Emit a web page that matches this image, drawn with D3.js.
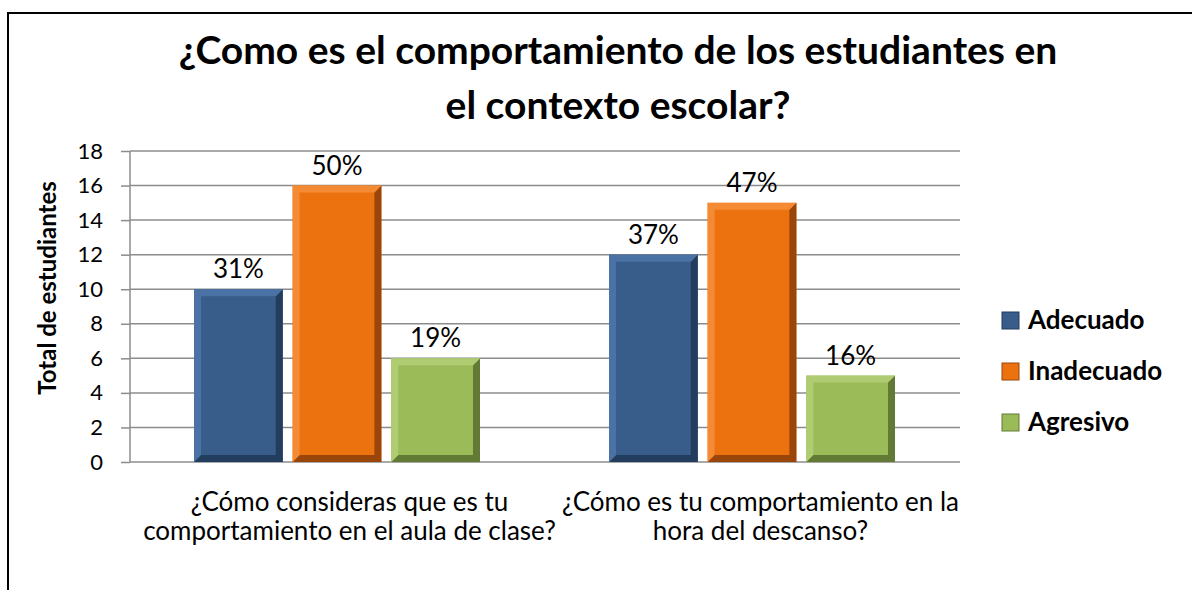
<!DOCTYPE html>
<html>
<head>
<meta charset="utf-8">
<title>Comportamiento</title>
<script src="https://d3js.org/d3.v7.min.js"></script>
<style>
  body { margin: 0; background: #fff; }
  text { font-family: Lato, "Open Sans", sans-serif; }
</style>
</head>
<body>
<div id="output"></div>
<script>
var categories = [
  ["¿Cómo consideras que es tu", "comportamiento en el aula de clase?"],
  ["¿Cómo es tu comportamiento en la", "hora del descanso?"]
];
var series = ["Adecuado", "Inadecuado", "Agresivo"];
var adecuado = [10, 12];
var inadecuado = [16, 15];
var agresivo = [6, 5];
var percentLabels = [["31%", "50%", "19%"], ["37%", "47%", "16%"]];
var yTicks = [0, 2, 4, 6, 8, 10, 12, 14, 16, 18];
var titleLines = ["¿Como es el comportamiento  de los estudiantes en", "el contexto escolar?"];

var colors = ["#385d8a", "#ec720f", "#9bbb59"];
var darks = ["#233d5e", "#9a460a", "#637a36"];
var lights = ["#4a72a5", "#f58a35", "#b0cc72"];

var w = 1192, h = 590;
var plot = {left: 130, right: 960, top: 151, bottom: 462};

var svg = d3.select("#output").append("svg").attr("width", w).attr("height", h);

svg.append("rect").attr("x", 8).attr("y", 13).attr("width", 1300).attr("height", 700)
  .attr("fill", "none").attr("stroke", "#000").attr("stroke-width", 2);

var title = svg.append("text").attr("text-anchor", "middle").attr("font-weight", "bold")
  .attr("font-size", 39).attr("fill", "#000");
titleLines.forEach(function(t, i) {
  title.append("tspan").attr("x", 618).attr("y", 64 + i * 55).text(t);
});

var y = d3.scaleLinear().domain([0, 18]).range([plot.bottom, plot.top]);
var x0 = d3.scaleBand().domain([0, 1]).range([plot.left, plot.right]).paddingInner(0).paddingOuter(0);
var x1 = d3.scaleBand().domain([0, 1, 2]).range([64, 350]).paddingInner(0.1);

// gridlines
svg.append("g").selectAll("line").data(yTicks).enter().append("line")
  .attr("x1", plot.left).attr("x2", plot.right)
  .attr("y1", function(d) { return y(d); }).attr("y2", function(d) { return y(d); })
  .attr("stroke", "#8c8c8c").attr("stroke-width", 1.5);

var yAxis = d3.axisLeft(y).tickValues(yTicks).tickSize(9).tickPadding(18);
var ga = svg.append("g").attr("transform", "translate(" + plot.left + ",0)").call(yAxis);
ga.selectAll("line, path").attr("stroke", "#8c8c8c").attr("stroke-width", 1.5);
ga.select(".domain").attr("d", "M0," + plot.top + "V" + plot.bottom);
ga.selectAll("text").attr("font-size", 22).attr("fill", "#000")
  .attr("font-family", "Lato, 'Open Sans', sans-serif");

svg.append("text").attr("transform", "translate(56,288) rotate(-90)")
  .attr("text-anchor", "middle").attr("font-weight", "bold").attr("font-size", 24)
  .text("Total de estudiantes");

var values = [adecuado, inadecuado, agresivo];
var bars = [];
categories.forEach(function(c, ci) {
  series.forEach(function(s, si) {
    bars.push({c: ci, s: si, v: values[si][ci], label: percentLabels[ci][si]});
  });
});

var bw = x1.bandwidth(), e = 7;
var g = svg.append("g").selectAll("g").data(bars).enter().append("g")
  .attr("transform", function(d) {
    return "translate(" + (x0(d.c) + x1(d.s)) + "," + y(d.v) + ")";
  });
g.append("rect").attr("width", bw).attr("height", function(d) { return plot.bottom - y(d.v); })
  .attr("fill", function(d) { return colors[d.s]; });
// bevel edges
g.append("path").attr("fill", function(d) { return darks[d.s]; })
  .attr("d", function(d) {
    var hh = plot.bottom - y(d.v);
    return "M" + bw + ",0L" + bw + "," + hh + "L0," + hh + "L" + e + "," + (hh - e) +
      "L" + (bw - e) + "," + (hh - e) + "L" + (bw - e) + "," + e + "Z";
  });
g.append("path").attr("fill", function(d) { return lights[d.s]; })
  .attr("d", function(d) {
    var hh = plot.bottom - y(d.v);
    return "M0,0L" + bw + ",0L" + (bw - e) + "," + e + "L" + e + "," + e +
      "L" + e + "," + (hh - e) + "L0," + hh + "Z";
  });
g.append("text").attr("x", bw / 2).attr("y", -11).attr("text-anchor", "middle")
  .attr("font-size", 26).attr("fill", "#000").text(function(d) { return d.label; });

// category labels
categories.forEach(function(c, ci) {
  var t = svg.append("text").attr("text-anchor", "middle").attr("font-size", 26).attr("fill", "#000");
  c.forEach(function(line, li) {
    t.append("tspan").attr("x", x0(ci) + x0.bandwidth() / 2 + (ci === 0 ? 12 : 8))
      .attr("y", 511 + li * 29).text(line);
  });
});

// legend
var lg = svg.append("g").selectAll("g").data(series).enter().append("g")
  .attr("transform", function(d, i) { return "translate(1002," + (312 + i * 51) + ")"; });
lg.append("rect").attr("width", 17).attr("height", 17)
  .attr("fill", function(d, i) { return colors[i]; })
  .attr("stroke", function(d, i) { return darks[i]; }).attr("stroke-width", 1);
lg.append("text").attr("x", 26).attr("y", 17).attr("font-size", 26).attr("font-weight", "bold")
  .text(function(d) { return d; });
</script>
</body>
</html>
